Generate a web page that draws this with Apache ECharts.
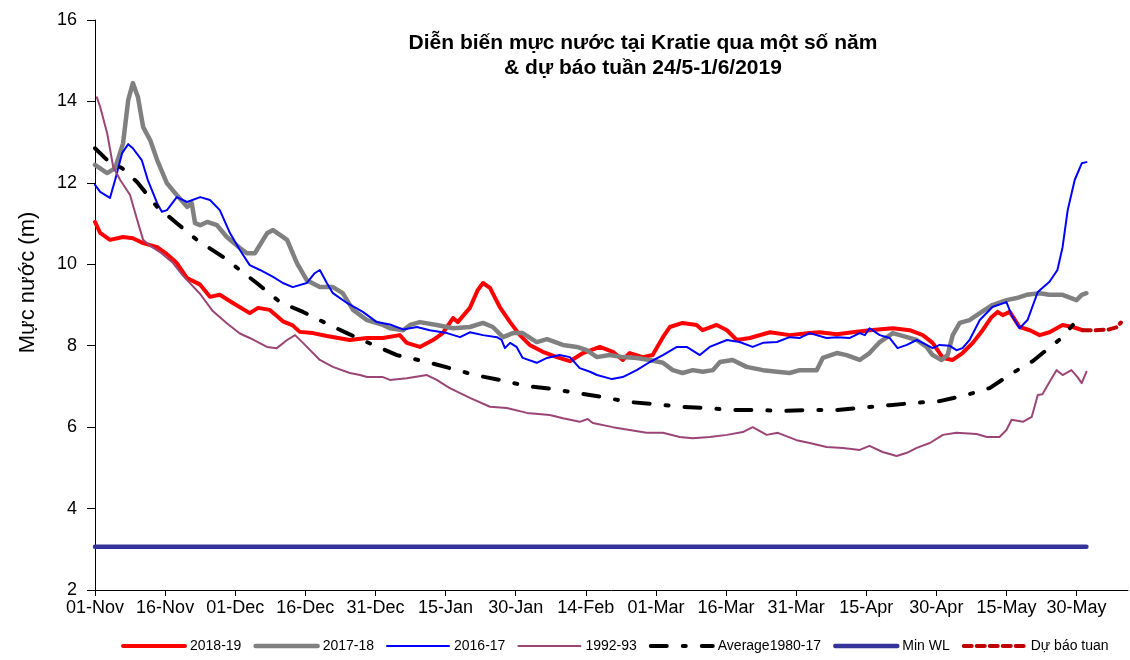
<!DOCTYPE html>
<html>
<head>
<meta charset="utf-8">
<title>Kratie</title>
<script src="https://cdn.jsdelivr.net/npm/echarts@6/dist/echarts.min.js"></script>
<style>
  html, body { margin: 0; padding: 0; background: #fff; }
  #main { width: 1130px; height: 660px; }
</style>
</head>
<body>
<div id="main"></div>
<script>
  // nhãn trục hoành, mỗi 15 ngày kể từ 01-Nov
  const tickLabels = ['01-Nov', '16-Nov', '01-Dec', '16-Dec', '31-Dec', '15-Jan', '30-Jan', '14-Feb',
    '01-Mar', '16-Mar', '31-Mar', '15-Apr', '30-Apr', '15-May', '30-May'];

  // 2018-19 (ngày kể từ 01-Nov, mực nước m)
  const days1819 = [0, 1.1, 3.2, 6, 8.1, 10.3, 13.3, 15.4, 17.5, 19.7, 22.5, 24.6, 26.7, 29.5, 33.1, 34.9, 37.4, 40.2,
    42.3, 43.8, 46.6, 49.6, 54.5, 58.2, 61.6, 65.2, 66.7, 69.5, 72.3, 74.4, 75.9, 76.6, 77.6, 80.2, 81.9, 83, 84.5,
    86.6, 88.8, 90.9, 93, 95.8, 98.8, 101.6, 104.4, 108, 110.8, 112.9, 114.4, 117.2, 119.3, 121.5, 123, 125.7, 128.7,
    130, 133, 135.2, 137.3, 140.1, 144.4, 148.6, 152.9, 155, 158.7, 162.1, 165.7, 170.7, 174.3, 177.1, 179.2, 181.4,
    183.5, 185.6, 187.8, 189.9, 191.8, 193.1, 194.2, 195.7, 197.8, 200, 202.1, 204.2, 207, 209.2, 211.3];
  const wl1819 = [11.04, 10.77, 10.6, 10.67, 10.64, 10.52, 10.42, 10.25, 10.03, 9.66, 9.5, 9.2, 9.25, 9.05, 8.8, 8.93,
    8.88, 8.6, 8.5, 8.34, 8.31, 8.24, 8.14, 8.19, 8.19, 8.26, 8.07, 7.97, 8.14, 8.31, 8.56, 8.68, 8.58, 8.93, 9.37, 9.54,
    9.42, 8.95, 8.58, 8.26, 8.02, 7.85, 7.72, 7.62, 7.82, 7.97, 7.85, 7.65, 7.82, 7.72, 7.77, 8.21, 8.46, 8.56, 8.51,
    8.38, 8.51, 8.38, 8.14, 8.19, 8.33, 8.26, 8.31, 8.33, 8.28, 8.33, 8.38, 8.43, 8.38, 8.26, 8.07, 7.7, 7.65, 7.82,
    8.07, 8.38, 8.7, 8.83, 8.75, 8.83, 8.46, 8.38, 8.26, 8.33, 8.51, 8.46, 8.38];

  // 2017-18
  const days1718 = [0, 2.6, 4.3, 6, 7.1, 8.1, 9.2, 10.3, 11.8, 13.3, 15.4, 17.5, 19.7, 20.7, 21.4, 22.5, 24, 26.1, 28.2,
    31, 32.5, 34.2, 36.8, 38.1, 41.1, 43.2, 45.3, 48.1, 50.9, 53, 55.2, 58.2, 61.6, 63.1, 65.9, 67.4, 69.5, 73.1, 76.6,
    80.2, 83, 85.1, 87.3, 89.4, 91.5, 94.5, 96.7, 100.1, 103.1, 105.2, 107.4, 110.1, 112.9, 115.9, 118.7, 121.5, 123.6,
    125.7, 127.9, 130, 132.2, 133.7, 136.4, 139.4, 142.9, 145.9, 148.6, 150.8, 154.4, 155.7, 158.7, 160.8, 163.6,
    165.7, 167.9, 170.7, 173.7, 175.8, 177.9, 179.2, 181.1, 182.4, 183.5, 185, 187.1, 189.3, 192, 195, 197.2, 199.3,
    202.1, 204.2, 207, 210, 211.1, 212.1];
  const wl1718 = [12.44, 12.24, 12.36, 12.97, 14.03, 14.45, 14.1, 13.37, 13.05, 12.56, 11.99, 11.7, 11.41, 11.5, 11.01,
    10.96, 11.04, 10.96, 10.67, 10.4, 10.27, 10.27, 10.76, 10.84, 10.6, 10.03, 9.61, 9.44, 9.44, 9.29, 8.88, 8.63, 8.51,
    8.43, 8.38, 8.51, 8.58, 8.51, 8.43, 8.46, 8.56, 8.46, 8.21, 8.31, 8.31, 8.09, 8.16, 8.02, 7.97, 7.89, 7.72, 7.77,
    7.72, 7.7, 7.65, 7.58, 7.4, 7.33, 7.4, 7.36, 7.4, 7.6, 7.65, 7.48, 7.4, 7.36, 7.33, 7.4, 7.4, 7.7, 7.82, 7.77, 7.65,
    7.82, 8.09, 8.31, 8.21, 8.14, 7.97, 7.77, 7.65, 7.77, 8.26, 8.56, 8.63, 8.8, 9.0, 9.12, 9.17, 9.25, 9.29, 9.25,
    9.25, 9.12, 9.25, 9.29];

  // 2016-17
  const days1617 = [0, 1.1, 3.2, 4.3, 5.8, 7.1, 8.1, 10, 11.3, 13.3, 14.3, 15.4, 17.5, 19.7, 22.5, 24.6, 26.7, 28.9, 31,
    33.1, 35.3, 38.1, 40.2, 42.3, 45.3, 47, 48.1, 49.6, 50.9, 53.9, 57.3, 60.3, 63.1, 65.9, 68.9, 71.6, 75.3, 78.1,
    80.2, 83, 86, 87, 87.7, 88.8, 90.2, 91.5, 94.5, 96.7, 99.4, 101.6, 103.7, 105.9, 107.4, 110.6, 112.9, 115.9, 118.7,
    121.5, 124.5, 126.6, 129.4, 131.5, 135.2, 137.9, 140.7, 142.9, 145.9, 148.6, 150.8, 152.9, 156.5, 158.7, 161.5,
    163.6, 164.7, 165.7, 167.9, 170, 171.7, 173.7, 175.8, 177.1, 179.2, 180.7, 182.8, 184.3, 185.6, 187.1, 189.3, 192,
    195, 196.1, 197.8, 199.5, 201.7, 204.2, 205.9, 207, 208.1, 209.6, 211.1, 212.1];
  const wl1617 = [11.95, 11.78, 11.63, 12.07, 12.73, 12.95, 12.85, 12.56, 12.07, 11.5, 11.29, 11.33, 11.65, 11.53, 11.65,
    11.58, 11.33, 10.76, 10.35, 9.98, 9.86, 9.69, 9.54, 9.44, 9.54, 9.78, 9.86, 9.54, 9.29, 9.05, 8.83, 8.58, 8.52,
    8.4, 8.46, 8.38, 8.31, 8.21, 8.33, 8.26, 8.21, 8.14, 7.94, 8.07, 7.97, 7.7, 7.58, 7.7, 7.77, 7.72, 7.45, 7.36, 7.28,
    7.18, 7.23, 7.4, 7.6, 7.77, 7.97, 7.97, 7.77, 7.97, 8.14, 8.09, 7.97, 8.07, 8.09, 8.21, 8.19, 8.31, 8.19, 8.21,
    8.19, 8.31, 8.26, 8.43, 8.26, 8.19, 7.94, 8.02, 8.14, 8.07, 7.94, 8.02, 8.0, 7.89, 7.94, 8.14, 8.63, 8.95, 9.07,
    8.75, 8.43, 8.63, 9.32, 9.57, 9.86, 10.42, 11.33, 12.07, 12.48, 12.51];

  // 1992-93
  const days9293 = [0.4, 1.1, 2.6, 3.9, 5.4, 7.5, 9, 10.3, 11.8, 13.9, 16.7, 18.8, 22.5, 25.2, 28.2, 31, 33.1, 36.8,
    38.9, 41.1, 42.8, 44.5, 48.1, 50.9, 54.5, 56.7, 58.2, 61.6, 63.1, 66.7, 71, 73.1, 75.9, 80.2, 84.5, 88.1, 92.4,
    97.3, 100.1, 103.7, 105.4, 106.5, 110.8, 114.4, 118, 121.5, 125.1, 127.9, 131.5, 135.2, 138.6, 140.7, 143.7, 146.1,
    150.1, 152.9, 156.5, 160, 163.6, 165.7, 168.5, 171.5, 173.7, 175.8, 178.6, 181.4, 184.3, 188.6, 190.8, 193.5, 195,
    196.1, 198.5, 200.4, 201.7, 202.7, 204.2, 205.7, 207, 208.9, 210.2, 211.1, 212.1];
  const wl9293 = [14.1, 13.87, 13.22, 12.39, 12.07, 11.7, 11.1, 10.6, 10.45, 10.3, 10.03, 9.72, 9.27, 8.85, 8.55, 8.3,
    8.19, 7.97, 7.94, 8.14, 8.26, 8.07, 7.65, 7.48, 7.33, 7.28, 7.23, 7.23, 7.16, 7.2, 7.28, 7.16, 6.96, 6.72, 6.5, 6.47,
    6.35, 6.3, 6.22, 6.13, 6.2, 6.1, 6.0, 5.93, 5.86, 5.86, 5.76, 5.73, 5.76, 5.81, 5.88, 6.0, 5.81, 5.86, 5.68, 5.61,
    5.51, 5.49, 5.44, 5.54, 5.39, 5.29, 5.37, 5.49, 5.61, 5.81, 5.86, 5.83, 5.76, 5.76, 5.93, 6.18, 6.13, 6.25, 6.79,
    6.81, 7.11, 7.4, 7.28, 7.4, 7.23, 7.08, 7.36];

  // trung bình 1980-17
  const daysAvg = [0, 2.6, 5.8, 9, 13.3, 17.5, 21.8, 27.4, 31, 34.6, 39.6, 44.5, 49.8, 53.9, 59.5, 64.6, 71, 75.9, 81.3,
    86.6, 92.4, 97.7, 103.1, 108.6, 114, 119.3, 125.1, 130.9, 136.4, 141.6, 147.6, 152.9, 158.7, 163.6, 170, 174.9,
    180.7, 186.5, 191.4, 196.3, 200.6, 204.9, 206.8, 209.2];
  const wlAvg = [12.85, 12.56, 12.36, 12.02, 11.41, 11.01, 10.6, 10.18, 9.86, 9.54, 9.07, 8.83, 8.53, 8.31, 8.02, 7.77,
    7.6, 7.45, 7.28, 7.16, 7.01, 6.94, 6.84, 6.74, 6.62, 6.57, 6.5, 6.47, 6.42, 6.42, 6.4, 6.42, 6.42, 6.47, 6.54, 6.59,
    6.64, 6.79, 6.96, 7.33, 7.62, 8.02, 8.19, 8.51];

  // mực nước thấp nhất
  const daysMin = [0, 212.1];
  const wlMin = [3.06, 3.06];

  // dự báo tuần
  const daysFc = [211.3, 214, 217, 218.5, 219.5];
  const wlFc = [8.38, 8.38, 8.4, 8.45, 8.57];

  function pairs(xs, ys) {
    return xs.map((x, i) => [x, ys[i]]);
  }

  function line(name, xs, ys, color, width, type) {
    return {
      name: name,
      type: 'line',
      data: pairs(xs, ys),
      symbol: 'none',
      smooth: false,
      lineStyle: {color: color, width: width, type: type || 'solid', cap: 'round', join: 'round'},
      itemStyle: {color: color},
      z: 2
    };
  }

  const font = 'Liberation Sans, Arial, sans-serif';
  let myChart = echarts.init(document.getElementById('main'));

  let option = {
    animation: false,
    textStyle: {fontFamily: font},
    title: {
      text: 'Diễn biến mực nước tại Kratie qua một số năm\n& dự báo tuần 24/5-1/6/2019',
      left: 638,
      top: 26,
      textAlign: 'center',
      textStyle: {fontSize: 21, fontWeight: 'bold', color: '#000', lineHeight: 25, fontFamily: font, align: 'center'}
    },
    legend: {
      bottom: 2,
      left: 116,
      width: 1010,
      itemWidth: 62,
      itemHeight: 10,
      itemGap: 12,
      itemStyle: {opacity: 0},
      lineStyle: {width: 'inherit'},
      textStyle: {fontSize: 14, color: '#000', fontFamily: font},
      data: ['2018-19', '2017-18', '2016-17', '1992-93', 'Average1980-17', 'Min WL', 'Dự báo tuan']
    },
    grid: {left: 95, right: 2, top: 20, bottom: 70},
    xAxis: {
      type: 'value',
      min: 0,
      max: 221,
      interval: 15,
      splitLine: {show: false},
      axisLine: {lineStyle: {color: '#000', width: 1}},
      axisTick: {
        length: 6,
        lineStyle: {color: '#000'},
        customValues: tickLabels.map((_, i) => i * 15)
      },
      axisLabel: {
        fontSize: 18,
        color: '#000',
        margin: 9,
        customValues: tickLabels.map((_, i) => i * 15),
        formatter: function (v) {
          return tickLabels[Math.round(v / 15)] || '';
        }
      }
    },
    yAxis: {
      type: 'value',
      min: 2,
      max: 16,
      interval: 2,
      name: 'Mực nước (m)',
      nameLocation: 'middle',
      nameGap: 56,
      nameTextStyle: {fontSize: 22, color: '#000', fontFamily: font, padding: [0, 0, 0, 45]},
      splitLine: {show: false},
      axisLine: {show: true, lineStyle: {color: '#000', width: 1}},
      axisTick: {show: true, length: 8, lineStyle: {color: '#000'}},
      axisLabel: {fontSize: 18, color: '#000', margin: 18}
    },
    series: [
      line('2018-19', days1819, wl1819, '#ff0000', 4),
      line('2017-18', days1718, wl1718, '#808080', 4.5),
      line('2016-17', days1617, wl1617, '#0000ff', 2),
      line('1992-93', days9293, wl9293, '#9b4576', 2),
      line('Average1980-17', daysAvg, wlAvg, '#000000', 4, [16, 16, 3, 16]),
      line('Min WL', daysMin, wlMin, '#333399', 4.5),
      line('Dự báo tuan', daysFc, wlFc, '#c00000', 4, [8, 5])
    ]
  };

  myChart.setOption(option);
</script>
</body>
</html>
